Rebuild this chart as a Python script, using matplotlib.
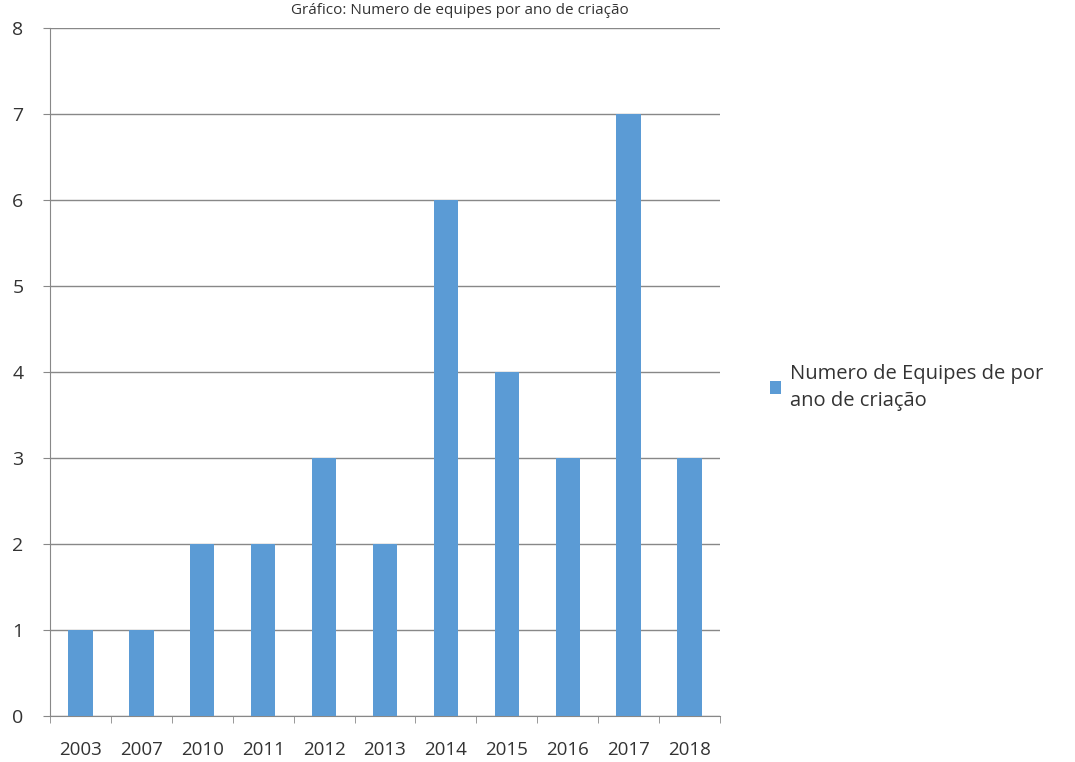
import matplotlib.pyplot as plt
import numpy as np

anos = ['2003', '2007', '2010', '2011', '2012', '2013', '2014', '2015', '2016', '2017', '2018']
equipes = [1, 1, 2, 2, 3, 2, 6, 4, 3, 7, 3]
serie = 'Numero de Equipes de por\nano de criação'
titulo = 'Gráfico: Numero de equipes por ano de criação'

plt.rcParams['font.family'] = ['Open Sans', 'DejaVu Sans']

fig = plt.figure(figsize=(10.75, 7.62), dpi=100)
ax = fig.add_axes([50/1075, 1 - 716/762, 670/1075, 688/762])

x = np.arange(len(anos))
ax.bar(x, equipes, width=0.4, color='#5B9BD5', label=serie, zorder=3)

ax.set_xlim(-0.5, len(anos) - 0.5)
ax.set_ylim(0, 8)
ax.set_yticks(range(0, 9))
ax.set_xticks(x)
ax.set_xticklabels(anos, fontsize=13.5, color='#333333')
ax.set_xticks(np.arange(-0.5, len(anos)), minor=True)
ax.tick_params(axis='x', which='major', length=0, pad=18)
ax.tick_params(axis='x', which='minor', length=5, color='#888888')
ax.tick_params(axis='y', length=5, color='#888888', labelsize=14, labelcolor='#333333', pad=14)

ax.yaxis.grid(True, color='#888888', linewidth=1, zorder=0)
for s in ['top', 'right']:
    ax.spines[s].set_visible(False)
for s in ['left', 'bottom']:
    ax.spines[s].set_color('#888888')

leg = ax.legend(loc='center left', bbox_to_anchor=(752/670 - 50/670, 0.478), frameon=False,
                fontsize=14.5, handlelength=0.55, handleheight=0.55, handletextpad=0.45,
                labelcolor='#333333')
for t in leg.get_texts():
    t.set_linespacing(1.45)

fig.text(460/1075, 1 - 3/762, titulo, ha='center', va='top', fontsize=11, color='#333333')

fig.savefig('out.png', dpi=100)
